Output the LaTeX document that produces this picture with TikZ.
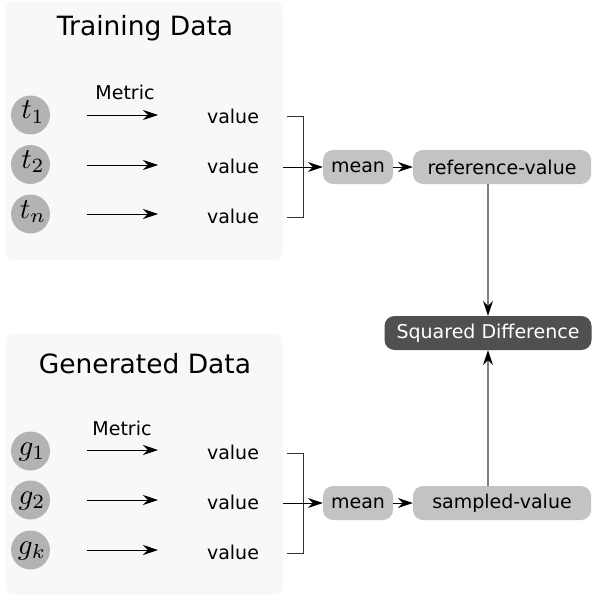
\documentclass[tikz,border=0pt]{standalone}
\usepackage{graphicx}
\usepackage{fontspec}
\setmainfont{DejaVu Sans}
\usetikzlibrary{arrows.meta}
\definecolor{panelc}{HTML}{F8F8F8}
\definecolor{circc}{HTML}{B3B3B3}
\definecolor{boxc}{HTML}{C3C3C3}
\definecolor{darkc}{HTML}{505050}
\definecolor{linec}{HTML}{333333}
\definecolor{vlinec}{HTML}{808080}
\newcommand{\bigmath}[1]{\scalebox{2.9}{$#1$}}
\begin{document}
\begin{tikzpicture}[x=1pt,y=-1pt,
  panel/.style={fill=panelc,rounded corners=10pt,inner sep=0pt},
  title/.style={font=\fontsize{26.5}{30}\selectfont,inner sep=0pt},
  txt/.style={font=\fontsize{19}{22}\selectfont,inner sep=0pt},
  circ/.style={circle,fill=circc,minimum size=39pt,inner sep=0pt},
  mlab/.style={anchor=base,inner sep=0pt},
  gbox/.style={fill=boxc,rounded corners=10pt,minimum height=34pt,inner sep=0pt,font=\fontsize{19}{22}\selectfont},
  dbox/.style={fill=darkc,text=white,rounded corners=10pt,minimum height=34pt,inner sep=0pt,font=\fontsize{19}{22}\selectfont},
  tip/.style={-{Stealth[length=15pt,width=10pt,inset=5pt,fill=black,color=black]}},
  arr/.style={tip,line width=0.9pt,black},
  varr/.style={tip,line width=1.2pt,draw=vlinec},
  brk/.style={line width=1pt,draw=linec}
]
\useasboundingbox (0,0) rectangle (592,596);
% panels
\node[panel,minimum width=278pt,minimum height=259pt] (p1) at (144,130.5) {};
\node[panel,minimum width=278pt,minimum height=262pt] (p2) at (144,464) {};
\node[title] (tt1) at (145,28) {Training Data};
\node[title] (tt2) at (145,364) {Generated Data};
% training
\node[circ] (t1) at (30.5,115) {};
\node[circ] (t2) at (30.5,164.5) {};
\node[circ] (t3) at (30.5,214) {};
\node[mlab] (t1l) at (33,119) {\bigmath{t_1}};
\node[mlab] (t2l) at (33,168.5) {\bigmath{t_2}};
\node[mlab] (t3l) at (33,218) {\bigmath{t_n}};
\node[txt] (m1) at (125,92) {Metric};
\foreach \i/\y in {1/115,2/165,3/214}{
  \coordinate (as\i) at (87,\y);
  \coordinate (ae\i) at (158,\y);
  \draw[arr] (as\i) -- (ae\i);
}
\node[txt] (v1) at (233,116) {value};
\node[txt] (v2) at (233,166) {value};
\node[txt] (v3) at (233,216) {value};
\coordinate (b1) at (287,117);
\coordinate (b3) at (287,217);
\coordinate (bx) at (303,117);
\coordinate (b2) at (283,167);
\draw[brk] (b1) -- (bx) |- (b3);
\node[gbox,minimum width=70pt] (mean1) at (358,167) {mean};
\node[gbox,minimum width=178pt] (ref) at (502,167) {reference-value};
\draw[arr] (b2) -- (mean1.west);
\draw[arr] (mean1.east) -- (ref.west);
% squared difference
\node[dbox,minimum width=207pt] (sq) at (488,333) {Squared Difference};
\draw[varr] (ref.south -| sq.north) -- (sq.north);
% generated
\node[circ] (g1) at (30.5,451) {};
\node[circ] (g2) at (30.5,500) {};
\node[circ] (g3) at (30.5,550) {};
\node[mlab] (g1l) at (32,455) {\bigmath{g_1}};
\node[mlab] (g2l) at (32,504) {\bigmath{g_2}};
\node[mlab] (g3l) at (32,554) {\bigmath{g_k}};
\node[txt] (m2) at (122,428) {Metric};
\foreach \i/\y in {1/450,2/500,3/550}{
  \coordinate (gs\i) at (87,\y);
  \coordinate (ge\i) at (158,\y);
  \draw[arr] (gs\i) -- (ge\i);
}
\node[txt] (w1) at (233,452) {value};
\node[txt] (w2) at (233,502) {value};
\node[txt] (w3) at (233,552) {value};
\coordinate (c1) at (287,453);
\coordinate (c3) at (287,553);
\coordinate (cx) at (303,453);
\coordinate (c2) at (283,503);
\draw[brk] (c1) -- (cx) |- (c3);
\node[gbox,minimum width=70pt] (mean2) at (358,503) {mean};
\node[gbox,minimum width=178pt] (samp) at (502,503) {sampled-value};
\draw[arr] (c2) -- (mean2.west);
\draw[arr] (mean2.east) -- (samp.west);
\draw[varr] (samp.north -| sq.south) -- (sq.south);
\end{tikzpicture}
\end{document}
